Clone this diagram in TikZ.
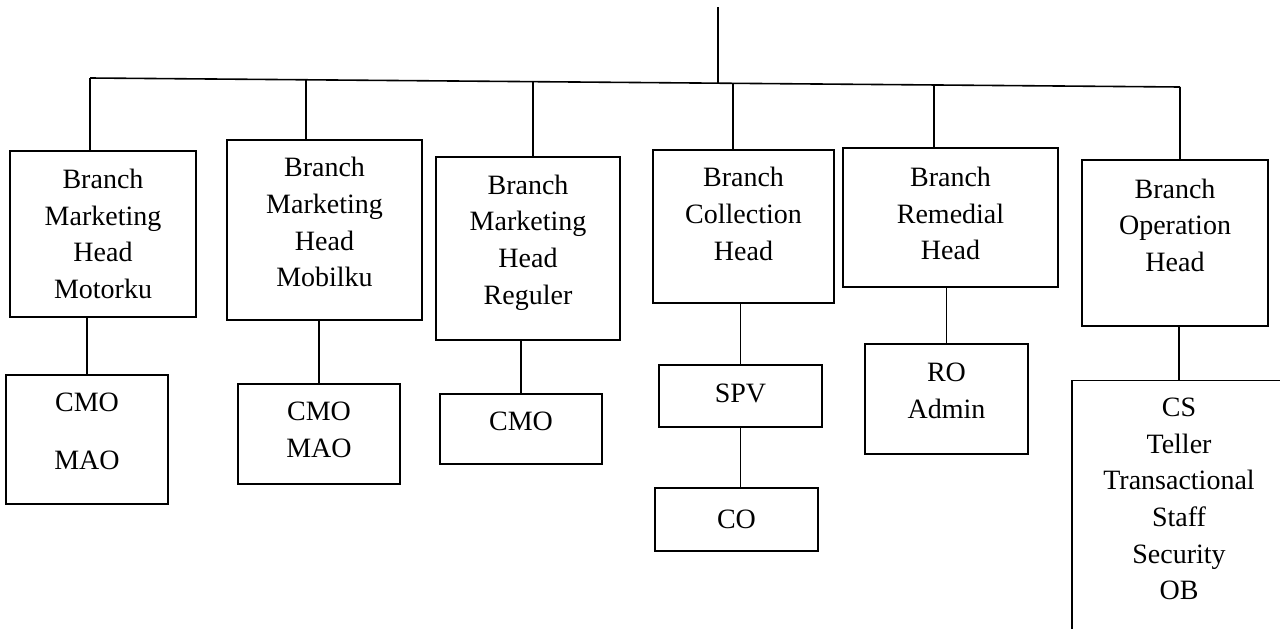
\documentclass[tikz,border=0pt]{standalone}
\usepackage{fontspec}
\setmainfont{Liberation Serif}

\begin{document}
\begin{tikzpicture}[x=0.75pt, y=-0.75pt, line width=1.2pt,
  unit/.style={draw, rectangle, align=center, inner sep=0pt, font=\fontsize{21}{27.5}\selectfont},
  lift/.style={text depth=#1}]

  \useasboundingbox (0,0) rectangle (1280,628);
  \clip (0,0) rectangle (1280,628);

  % heads
  \node[unit, minimum width=139.5pt, minimum height=124.5pt]             (motorku)    at (103,234)   {Branch\\Marketing\\Head\\Motorku};
  \node[unit, minimum width=146.25pt, minimum height=135pt, lift=12pt]   (mobilku)    at (324.5,230) {Branch\\Marketing\\Head\\Mobilku};
  \node[unit, minimum width=138pt, minimum height=137.25pt, lift=13.5pt] (reguler)    at (528,248.5) {Branch\\Marketing\\Head\\Reguler};
  \node[unit, minimum width=135.75pt, minimum height=114.75pt, lift=19pt](collection) at (743.5,226.5){Branch\\Collection\\Head};
  \node[unit, minimum width=161.25pt, minimum height=104.25pt, lift=6pt] (remedial)   at (950.5,217.5){Branch\\Remedial\\Head};
  \node[unit, minimum width=139.5pt, minimum height=124.5pt, lift=27pt]  (operation)  at (1175,243)  {Branch\\Operation\\Head};

  % staff
  \node[unit, minimum width=121.5pt, minimum height=96.75pt, lift=12pt]  (cmomao1) at (87,439.5)  {CMO\\[16pt]MAO};
  \node[unit, minimum width=121.5pt, minimum height=75pt, lift=6pt]      (cmomao2) at (319,434)   {CMO\\MAO};
  \node[unit, minimum width=121.5pt, minimum height=52.5pt, lift=12pt]   (cmo3)    at (521,429)   {CMO};
  \node[unit, minimum width=122.25pt, minimum height=46.5pt, lift=4pt]   (spv)     at (740.5,396) {SPV};
  \node[unit, minimum width=122.25pt, minimum height=47.25pt]            (co)      at (736.5,519.5) {CO};
  \node[unit, minimum width=122.25pt, minimum height=82.5pt, lift=12pt]  (roadmin) at (946.5,399) {RO\\Admin};
  \node[unit, minimum width=160.5pt, minimum height=194pt, lift=16.5pt]  (cs)      at (1179,510)  {CS\\Teller\\Transactional\\Staff\\Security\\OB};

  % bar
  \coordinate (top) at (718,7);
  \coordinate (j0)  at (718,83.2);
  \coordinate (j1)  at (90,78);
  \coordinate (j2)  at (306,79.8);
  \coordinate (j3)  at (533,81.7);
  \coordinate (j4)  at (733,83.3);
  \coordinate (j5)  at (934,85);
  \coordinate (j6)  at (1180,87);

  \path[draw] (top) edge (j0)
              (j1)  edge (j6)
              (j1)  edge (j1 |- motorku.north)
              (j2)  edge (j2 |- mobilku.north)
              (j3)  edge (j3 |- reguler.north)
              (j4)  edge (j4 |- collection.north)
              (j5)  edge (j5 |- remedial.north)
              (j6)  edge (j6 |- operation.north)
              (cmomao1.north) edge (cmomao1.north |- motorku.south)
              (cmomao2.north) edge (cmomao2.north |- mobilku.south)
              (cmo3.north)    edge (cmo3.north |- reguler.south)
              (spv.north)     edge (spv.north |- collection.south)
              (spv.south)     edge (spv.south |- co.north)
              (roadmin.north) edge (roadmin.north |- remedial.south)
              (cs.north)      edge (cs.north |- operation.south);

\end{tikzpicture}
\end{document}
